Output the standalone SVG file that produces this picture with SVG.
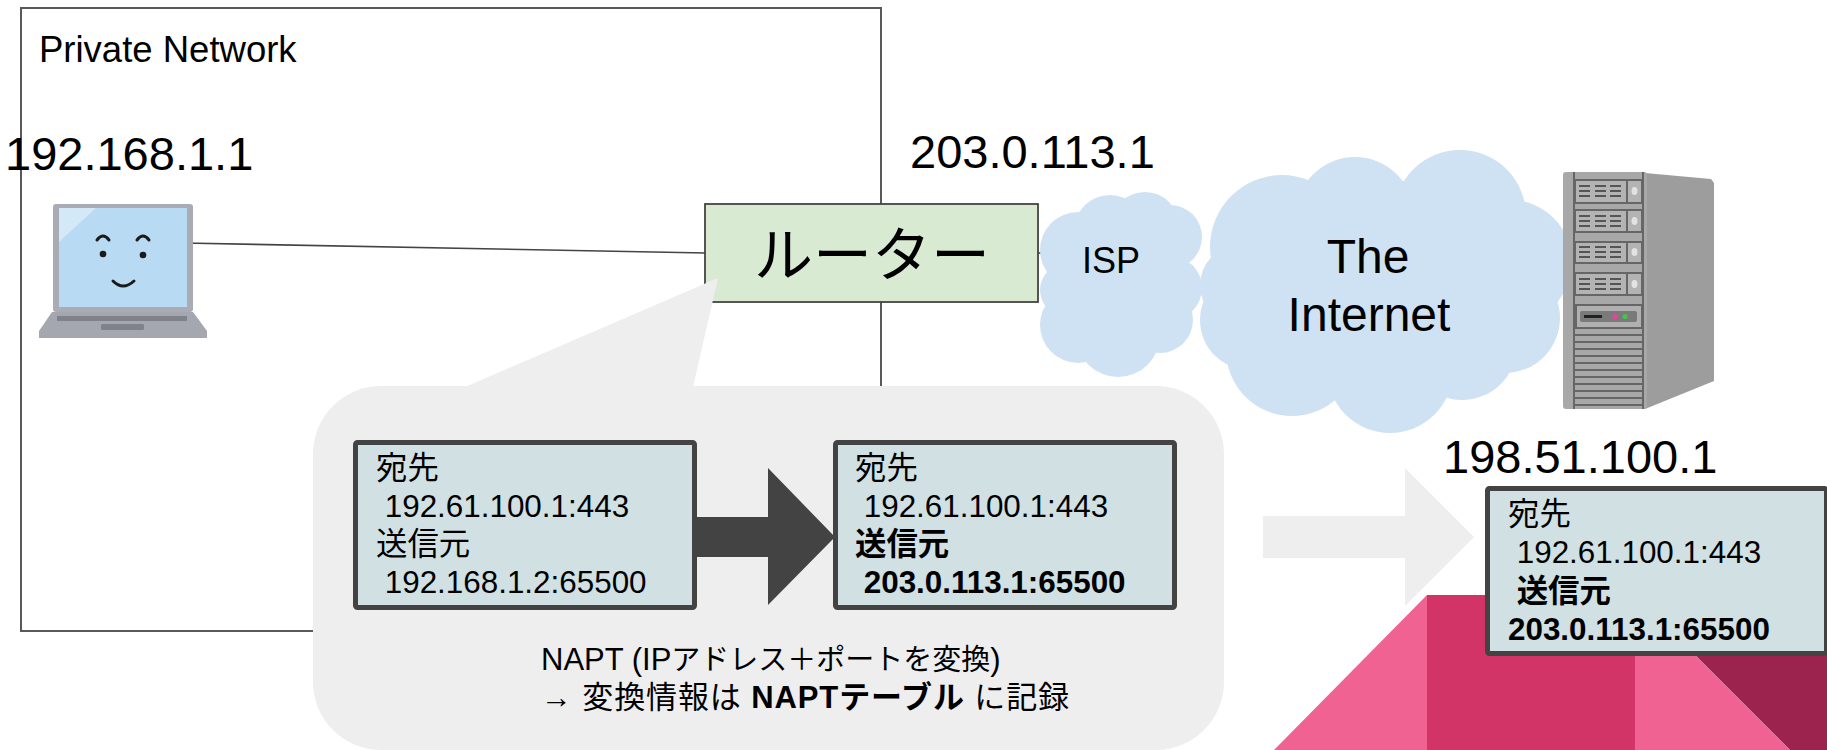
<svg xmlns="http://www.w3.org/2000/svg" width="1827" height="750" viewBox="0 0 1827 750">
  <style>
    .lat { font-family: "Liberation Sans", Arial, sans-serif; fill: #000; }
    .jp { font-family: "Liberation Sans", "Noto Sans CJK JP", sans-serif; fill: #000; }
    .ip { font-family: "Liberation Sans", Arial, sans-serif; font-size: 47px; fill: #000; }
    .pkt { font-family: "Liberation Sans", "Noto Sans CJK JP", sans-serif; font-size: 31.4px; fill: #000; }
    .pktbox { fill: #d0e0e3; stroke: #434343; stroke-width: 5; }
    .cloud { fill: #cfe2f3; }
    .wire { stroke: #444; stroke-width: 1.6; fill: none; }
    .srvline { stroke: #666; stroke-width: 2; fill: none; }
    .bay { fill: #b3b3b3; stroke: #666; stroke-width: 2; }
    .slot { stroke: #555; stroke-width: 2; }
    .b { font-weight: bold; }
  </style>

  <!-- private network boundary -->
  <g id="private-network">
    <rect x="21" y="8" width="860" height="623" fill="none" stroke="#595959" stroke-width="2"/>
    <text class="lat" x="39" y="62" font-size="36.5">Private Network</text>
  </g>

  <!-- connectors -->
  <g id="connectors">
    <line class="wire" x1="183" y1="243" x2="706" y2="253"/>
    <line class="wire" x1="1038" y1="253" x2="1046" y2="253"/>
  </g>

  <!-- client laptop -->
  <g id="laptop">
    <text class="ip" x="5" y="170">192.168.1.1</text>
    <polygon points="52,312 193,312 207,331 207,338 39,338 39,331" fill="#a4a7af"/>
    <rect x="57" y="316" width="130" height="5" fill="#7f828a"/>
    <rect x="101" y="324" width="43" height="6" rx="1.5" fill="#7f828a"/>
    <rect x="53" y="204" width="140" height="108" rx="3" fill="#a9acb4"/>
    <rect x="59" y="208" width="128" height="99" fill="#b8daf2"/>
    <polygon points="59,208 96,208 59,242" fill="#d3e9f8"/>
    <path d="M97,240 Q103,232 109,240 M137,240 Q143,232 149,240" stroke="#1a1a1a" stroke-width="3" fill="none" stroke-linecap="round"/>
    <circle cx="103" cy="254" r="3.3" fill="#1a1a1a"/>
    <circle cx="143" cy="255" r="3.3" fill="#1a1a1a"/>
    <path d="M113,281 Q123,291 134,281" stroke="#1a1a1a" stroke-width="3" fill="none" stroke-linecap="round"/>
  </g>

  <!-- router -->
  <g id="router">
    <rect x="705" y="204" width="333" height="98" fill="#d9ead3" stroke="#444" stroke-width="1.8"/>
    <text x="872" y="276" font-size="59" text-anchor="middle" font-family="'Noto Sans CJK JP', sans-serif">ルーター</text>
    <text class="ip" x="910" y="168">203.0.113.1</text>
  </g>

  <!-- ISP cloud -->
  <g id="isp">
    <g class="cloud">
      <circle cx="1078" cy="250" r="38"/>
      <circle cx="1110" cy="231" r="36"/>
      <circle cx="1145" cy="226" r="34"/>
      <circle cx="1170" cy="237" r="32"/>
      <circle cx="1170" cy="288" r="32"/>
      <circle cx="1160" cy="320" r="33"/>
      <circle cx="1118" cy="335" r="42"/>
      <circle cx="1078" cy="325" r="38"/>
      <circle cx="1066" cy="290" r="26"/>
      <ellipse cx="1118" cy="285" rx="62" ry="62"/>
    </g>
    <text class="lat" x="1111" y="273" font-size="36" text-anchor="middle">ISP</text>
  </g>

  <!-- internet cloud -->
  <g id="internet">
    <g class="cloud">
      <circle cx="1282" cy="247" r="72"/>
      <circle cx="1355" cy="216" r="59"/>
      <circle cx="1460" cy="216" r="66"/>
      <circle cx="1510" cy="262" r="62"/>
      <circle cx="1505" cy="318" r="55"/>
      <circle cx="1462" cy="345" r="55"/>
      <circle cx="1390" cy="370" r="63"/>
      <circle cx="1292" cy="350" r="66"/>
      <circle cx="1250" cy="320" r="50"/>
      <circle cx="1240" cy="285" r="40"/>
      <ellipse cx="1385" cy="290" rx="150" ry="110"/>
    </g>
    <text class="lat" font-size="48" text-anchor="middle"><tspan x="1368" y="273">The</tspan><tspan x="1369" y="331">Internet</tspan></text>
  </g>

  <!-- web server -->
  <g id="server">
    <polygon points="1645,173 1711,179 1714,183 1714,381 1645,409" fill="#9d9d9d"/>
    <rect x="1563" y="172" width="84" height="237" rx="3" fill="#a8a8a8"/>
    <line class="srvline" x1="1574" y1="172" x2="1574" y2="409"/>
    <line class="srvline" x1="1643" y1="172" x2="1643" y2="409"/>
    <g>
      <rect class="bay" x="1575" y="180" width="52" height="23"/>
      <rect class="bay" x="1627" y="180" width="15" height="23"/>
      <rect class="bay" x="1575" y="210" width="52" height="22"/>
      <rect class="bay" x="1627" y="210" width="15" height="22"/>
      <rect class="bay" x="1575" y="242" width="52" height="21"/>
      <rect class="bay" x="1627" y="242" width="15" height="21"/>
      <rect class="bay" x="1575" y="273" width="52" height="22"/>
      <rect class="bay" x="1627" y="273" width="15" height="22"/>
      <g fill="#e2e2e2">
        <ellipse cx="1634.5" cy="191" rx="3" ry="4"/>
        <ellipse cx="1634.5" cy="221" rx="3" ry="4"/>
        <ellipse cx="1634.5" cy="252" rx="3" ry="4"/>
        <ellipse cx="1634.5" cy="284" rx="3" ry="4"/>
      </g>
      <path class="slot" d="M1579,186h11M1595,186h11M1610,186h11M1579,191h11M1595,191h11M1610,191h11M1579,196h11M1595,196h11M1610,196h11
        M1579,216h11M1595,216h11M1610,216h11M1579,221h11M1595,221h11M1610,221h11M1579,226h11M1595,226h11M1610,226h11
        M1579,247h11M1595,247h11M1610,247h11M1579,252h11M1595,252h11M1610,252h11M1579,257h11M1595,257h11M1610,257h11
        M1579,279h11M1595,279h11M1610,279h11M1579,284h11M1595,284h11M1610,284h11M1579,289h11M1595,289h11M1610,289h11"/>
    </g>
    <rect x="1576" y="305" width="66" height="23" fill="#b0b0b0" stroke="#666" stroke-width="2"/>
    <rect x="1580" y="311" width="57" height="11" rx="2" fill="#7a7a7a"/>
    <rect x="1584" y="315" width="18" height="3" fill="#222"/>
    <circle cx="1615" cy="316.5" r="2.6" fill="#e8449a"/>
    <circle cx="1625" cy="316.5" r="2.6" fill="#45c24a"/>
    <path class="srvline" d="M1574,335h69M1574,342h69M1574,349h69M1574,356h69M1574,363h69M1574,370h69M1574,377h69M1574,384h69M1574,391h69M1574,398h69M1574,405h69"/>
    <text class="ip" x="1443" y="473">198.51.100.1</text>
  </g>

  <!-- NAPT callout -->
  <g id="napt-callout">
    <rect x="313" y="386" width="911" height="364" rx="68" fill="#eeeeee"/>
    <polygon points="465,387 718,278 693,387" fill="#eeeeee"/>
    <text class="jp" font-size="31"><tspan x="541" y="670">NAPT (IP<tspan font-size="29">アドレス＋ポートを変換</tspan>)</tspan><tspan x="541" y="708" textLength="528" lengthAdjust="spacing">→ 変換情報は <tspan class="b">NAPTテーブル</tspan> に記録</tspan></text>
  </g>

  <!-- translation arrow -->
  <g id="translate-arrow">
    <polygon points="686,517 768,517 768,468 835,537 768,605 768,557 686,557" fill="#434343"/>
  </g>

  <!-- packet before translation -->
  <g id="packet-before">
    <rect class="pktbox" x="355.5" y="442.5" width="339" height="165" rx="2"/>
    <text class="pkt"><tspan x="376" y="479">宛先</tspan><tspan x="376" y="517"> 192.61.100.1:443</tspan><tspan x="376" y="555">送信元</tspan><tspan x="376" y="593"> 192.168.1.2:65500</tspan></text>
  </g>

  <!-- packet after translation -->
  <g id="packet-after">
    <rect class="pktbox" x="835.5" y="442.5" width="339" height="165" rx="2"/>
    <text class="pkt"><tspan x="855" y="479">宛先</tspan><tspan x="855" y="517"> 192.61.100.1:443</tspan><tspan x="855" y="555" class="b">送信元</tspan><tspan x="855" y="593" class="b"> 203.0.113.1:65500</tspan></text>
  </g>

  <!-- decorative shapes, lower right -->
  <g id="backdrop">
    <polygon points="1274,750 1427,595 1427,750" fill="#f06292"/>
    <rect x="1427" y="595" width="208" height="155" fill="#d23468"/>
    <polygon points="1635,595 1827,595 1827,750 1790,750" fill="#9c234d"/>
    <polygon points="1635,595 1790,750 1635,750" fill="#f06292"/>
  </g>

  <!-- forwarding arrow -->
  <g id="forward-arrow">
    <polygon points="1263,516 1405,516 1405,468 1474,537 1405,606 1405,558 1263,558" fill="#eeeeee"/>
  </g>

  <!-- packet on the internet -->
  <g id="packet-out">
    <rect class="pktbox" x="1487.5" y="488.5" width="339" height="165" rx="2"/>
    <text class="pkt"><tspan x="1508" y="525">宛先</tspan><tspan x="1508" y="563"> 192.61.100.1:443</tspan><tspan x="1508" y="602" class="b"> 送信元</tspan><tspan x="1508" y="640" class="b">203.0.113.1:65500</tspan></text>
  </g>
</svg>
